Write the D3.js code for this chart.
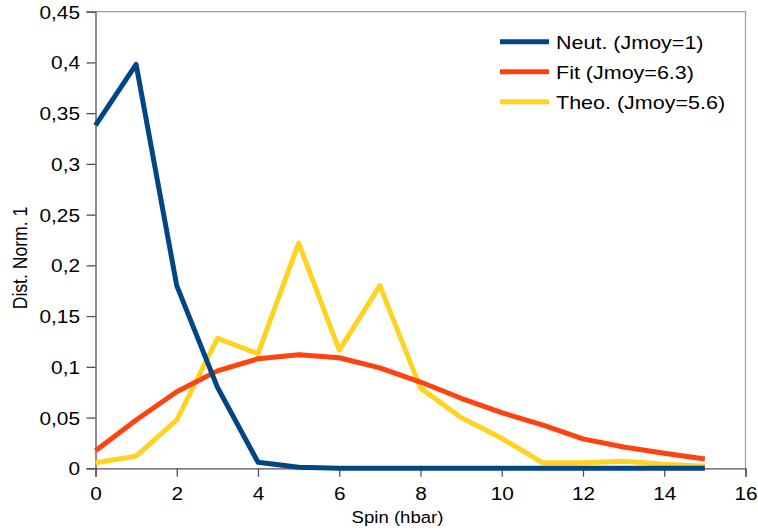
<!DOCTYPE html>
<html>
<head>
<meta charset="utf-8">
<script src="https://cdn.jsdelivr.net/npm/d3@7"></script>
<style>
  html, body { margin: 0; padding: 0; background: #fff; }
  svg { display: block; }
  text { font-family: "Liberation Sans", Arial, sans-serif; fill: #000; }
</style>
</head>
<body>
<svg id="chart" width="758" height="531"></svg>
<script>
// Spin distributions (normalised to 1)
const spins = [0, 1, 2, 3, 4, 5, 6, 7, 8, 9, 10, 11, 12, 13, 14, 15];
const neut = [0.338, 0.398, 0.180, 0.080, 0.006, 0.001, 0, 0, 0, 0, 0, 0, 0, 0, 0, 0];
const fit = [0.0173, 0.0476, 0.0755, 0.096, 0.108, 0.112, 0.109, 0.099, 0.085, 0.069, 0.0548, 0.0427, 0.029, 0.021, 0.0148, 0.0092];
const theo = [0.0055, 0.012, 0.0476, 0.128, 0.113, 0.222, 0.1165, 0.18, 0.079, 0.050, 0.0296, 0.0055, 0.0055, 0.0069, 0.004, 0.002];

const seriesNames = ["Neut. (Jmoy=1)", "Fit (Jmoy=6.3)", "Theo. (Jmoy=5.6)"];
const seriesColors = ["#004586", "#ff420e", "#ffd320"];

const xTicks = [0, 2, 4, 6, 8, 10, 12, 14, 16];
const yTicks = [0, 0.05, 0.1, 0.15, 0.2, 0.25, 0.3, 0.35, 0.4, 0.45];
const xTitle = "Spin (hbar)";
const yTitle = "Dist. Norm. 1";

const svg = d3.select("#chart");
const plotLeft = 95.5, plotRight = 745.5, plotTop = 11.7, plotBottom = 468.3;
const stretch = 1.12; // text is drawn slightly wide

const x = d3.scaleLinear().domain([0, 16]).range([plotLeft, plotRight]);
const y = d3.scaleLinear().domain([0, 0.45]).range([plotBottom, plotTop]);

const fmt = d => String(+d.toFixed(2)).replace(".", ",");

// frame (top and right)
svg.append("path")
  .attr("d", `M${plotLeft},${plotTop}H${plotRight}V${plotBottom}`)
  .attr("fill", "none")
  .attr("stroke", "#a898a8")
  .attr("stroke-width", 1.2);

// axes
const axisColor = "#5b4b5b";
const gx = svg.append("g").attr("transform", `translate(0,${plotBottom})`)
  .call(d3.axisBottom(x).tickValues(xTicks).tickSize(8.5).tickPadding(10).tickFormat(d => d));
const gy = svg.append("g").attr("transform", `translate(${plotLeft},0)`)
  .call(d3.axisLeft(y).tickValues(yTicks).tickSize(9).tickPadding(6).tickFormat(fmt));

[gx, gy].forEach(g => {
  g.select(".domain").attr("stroke", axisColor).attr("stroke-width", 1.3);
  g.selectAll(".tick line").attr("stroke", axisColor).attr("stroke-width", 1.3);
  g.selectAll(".tick text")
    .attr("font-family", "Liberation Sans, Arial, sans-serif")
    .attr("font-size", 18.6)
    .attr("fill", "#000");
});
gx.selectAll(".tick text").attr("dy", "0.71em").attr("transform", `scale(${stretch},1)`);
gy.selectAll(".tick text")
  .attr("x", -15.5 / stretch)
  .attr("dy", "0.35em")
  .attr("transform", `scale(${stretch},1)`);

// axis titles
svg.append("text")
  .attr("transform", `translate(397.5,522.7) scale(${stretch},1)`)
  .attr("text-anchor", "middle")
  .attr("font-size", 16.6)
  .text(xTitle);

svg.append("text")
  .attr("transform", `translate(26.5,258) rotate(-90) scale(1,${stretch})`)
  .attr("text-anchor", "middle")
  .attr("font-size", 17.6)
  .text(yTitle);

// series lines
const line = d3.line().x((d, i) => x(spins[i])).y(d => y(d));
const data = [neut, fit, theo];
[2, 1, 0].forEach(k => {
  svg.append("path")
    .datum(data[k])
    .attr("d", line)
    .attr("fill", "none")
    .attr("stroke", seriesColors[k])
    .attr("stroke-width", 5)
    .attr("stroke-linejoin", "round");
});

// legend
const legend = svg.append("g");
seriesNames.forEach((name, k) => {
  const ly = 41.7 + k * 30;
  legend.append("line")
    .attr("x1", 500).attr("x2", 549)
    .attr("y1", ly).attr("y2", ly)
    .attr("stroke", seriesColors[k])
    .attr("stroke-width", 5);
  legend.append("text")
    .attr("transform", `translate(556,${ly + 7}) scale(${stretch},1)`)
    .attr("font-size", 19.2)
    .text(name);
});
</script>
</body>
</html>
